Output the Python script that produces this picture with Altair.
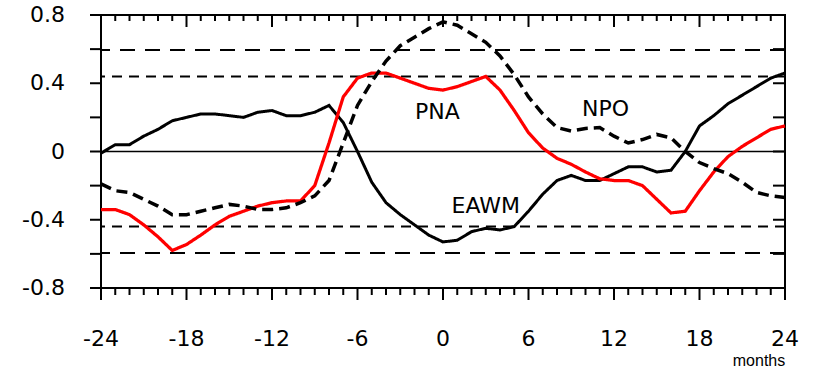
import altair as alt
import pandas as pd

# ---- data ----
months = list(range(-24, 25))
eawm = [-0.01, 0.04, 0.04, 0.09, 0.13, 0.18, 0.20, 0.22, 0.22, 0.21, 0.20, 0.23, 0.24, 0.21, 0.21, 0.23,
        0.27, 0.17, 0.00, -0.18, -0.30, -0.37, -0.43, -0.49, -0.53,
        -0.52, -0.47, -0.45, -0.46, -0.44, -0.35, -0.25, -0.17, -0.14, -0.17, -0.17, -0.13,
        -0.09, -0.09, -0.12, -0.11, 0.00, 0.15, 0.21, 0.28, 0.33, 0.38, 0.43, 0.46]
pna = [-0.34, -0.34, -0.37, -0.43, -0.50, -0.58, -0.545, -0.49, -0.43, -0.38, -0.35, -0.32, -0.30, -0.29, -0.29, -0.20,
       0.05, 0.32, 0.43, 0.46, 0.46, 0.43, 0.40, 0.37, 0.36,
       0.38, 0.41, 0.44, 0.36, 0.24, 0.11, 0.02, -0.04, -0.075, -0.12, -0.16, -0.17, -0.17, -0.20,
       -0.28, -0.36, -0.35, -0.23, -0.12, -0.03, 0.03, 0.08, 0.13, 0.15]
npo = [-0.19, -0.23, -0.24, -0.28, -0.32, -0.37, -0.37, -0.35, -0.33, -0.31, -0.32, -0.34, -0.34, -0.33, -0.30, -0.26,
       -0.17, 0.05, 0.27, 0.41, 0.53, 0.62, 0.67, 0.72, 0.76,
       0.74, 0.69, 0.64, 0.56, 0.45, 0.32, 0.22, 0.14, 0.12, 0.135, 0.14, 0.09, 0.05, 0.07,
       0.10, 0.08, 0.00, -0.065, -0.10, -0.13, -0.18, -0.24, -0.26, -0.27]

series_names = ["EAWM", "PNA", "NPO"]
series_colors = ["#000000", "#ff0000", "#000000"]
series_dash = [[1, 0], [1, 0], [11, 6]]
series_width = [3, 3.5, 3.5]

thresh_long = [0.595, -0.595]
thresh_short = [0.44, -0.44]

x_major = [-24, -18, -12, -6, 0, 6, 12, 18, 24]
x_major_labels = ["-24", "-18", "-12", "-6", "0", "6", "12", "18", "24"]
x_minor = [m for m in months if m % 6 != 0]
y_ticks = [-0.8, -0.6, -0.4, -0.2, 0, 0.2, 0.4, 0.6, 0.8]
y_label_values = [-0.8, -0.4, 0, 0.4, 0.8]
y_labels = ["-0.8", "-0.4", "0", "0.4", "0.8"]
x_title = "months"

label_text = ["PNA", "NPO", "EAWM"]
label_x = [-0.4, 11.4, 3.0]
label_y = [0.23, 0.25, -0.32]

# ---- layout (pixels) ----
W, H = 684, 273
FONT = "DejaVu Sans"

# ---- tables ----
rows = []
for name, vals in zip(series_names, [eawm, pna, npo]):
    for m, v in zip(months, vals):
        rows.append({"month": m, "value": v, "series": name})
df = pd.DataFrame(rows)

thr = pd.DataFrame({"value": thresh_long + thresh_short,
                    "style": ["long"] * len(thresh_long) + ["short"] * len(thresh_short)})
zero_df = pd.DataFrame({"value": [0]})
lab_df = pd.DataFrame({"text": label_text, "month": label_x, "value": label_y})
major_df = pd.DataFrame({"month": x_major, "label": x_major_labels})
minor_df = pd.DataFrame({"month": x_minor})
ytick_df = pd.DataFrame({"value": y_ticks})
ylab_df = pd.DataFrame({"value": y_label_values, "label": y_labels})
title_df = pd.DataFrame({"label": [x_title]})

xs = alt.Scale(domain=[months[0], months[-1]], nice=False, zero=False)
ys = alt.Scale(domain=[y_ticks[0], y_ticks[-1]], nice=False, zero=False)


def X(field):
    return alt.X(field, scale=xs, axis=None)


def Y(field):
    return alt.Y(field, scale=ys, axis=None)


def rule(data, **enc):
    return alt.Chart(data).mark_rule(strokeWidth=2, color="black").encode(**enc)


thr_layer = alt.Chart(thr).mark_rule(strokeWidth=2, color="black").encode(
    y=Y("value:Q"),
    strokeDash=alt.StrokeDash("style:N", scale=alt.Scale(domain=["long", "short"],
                                                         range=[[15, 10], [10, 7]]), legend=None),
)
zero_layer = alt.Chart(zero_df).mark_rule(strokeWidth=1.5, color="black").encode(y=Y("value:Q"))

lines = alt.Chart(df).mark_line().encode(
    x=X("month:Q"),
    y=Y("value:Q"),
    color=alt.Color("series:N", scale=alt.Scale(domain=series_names, range=series_colors), legend=None),
    strokeDash=alt.StrokeDash("series:N", scale=alt.Scale(domain=series_names, range=series_dash), legend=None),
    strokeWidth=alt.StrokeWidth("series:N", scale=alt.Scale(domain=series_names, range=series_width), legend=None),
    detail="series:N",
)

# axis ticks (positions through the scales, lengths in pixels)
bottom_major = rule(major_df, x=X("month:Q"), y=alt.value(H), y2=alt.value(H + 12))
bottom_minor = rule(minor_df, x=X("month:Q"), y=alt.value(H), y2=alt.value(H + 7))
top_major = rule(major_df, x=X("month:Q"), y=alt.value(0), y2=alt.value(12))
top_minor = rule(minor_df, x=X("month:Q"), y=alt.value(0), y2=alt.value(6))
left_ticks = rule(ytick_df, y=Y("value:Q"), x=alt.value(-11), x2=alt.value(0))
right_ticks = rule(ytick_df, y=Y("value:Q"), x=alt.value(W - 12), x2=alt.value(W))

# axis labels
x_labels = alt.Chart(major_df).mark_text(font=FONT, fontSize=22, color="black",
                                         align="center", baseline="middle").encode(
    x=X("month:Q"), y=alt.value(H + 51), text="label:N")
y_labels_layer = alt.Chart(ylab_df).mark_text(font=FONT, fontSize=22, color="black",
                                              align="right", baseline="middle").encode(
    y=Y("value:Q"), x=alt.value(-36), text="label:N")
x_title_layer = alt.Chart(title_df).mark_text(font="Liberation Sans", fontSize=16, color="black",
                                              align="center", baseline="middle").encode(
    x=alt.value(658), y=alt.value(H + 73), text="label:N")

labels = alt.Chart(lab_df).mark_text(font=FONT, fontSize=22, color="black").encode(
    x=X("month:Q"), y=Y("value:Q"), text="text:N")

chart = alt.layer(
    thr_layer, zero_layer, lines, bottom_major, bottom_minor, top_major, top_minor,
    left_ticks, right_ticks, x_labels, y_labels_layer, x_title_layer, labels
).resolve_scale(
    color="independent", strokeDash="independent"
).properties(
    width=W, height=H,
    autosize=alt.AutoSizeParams(type="none"),
    padding={"left": 101, "top": 15, "right": 28, "bottom": 83},
    background="white",
).configure_view(stroke="black", strokeWidth=2)

chart.save("out.html", embed_options={"renderer": "svg", "actions": False})
